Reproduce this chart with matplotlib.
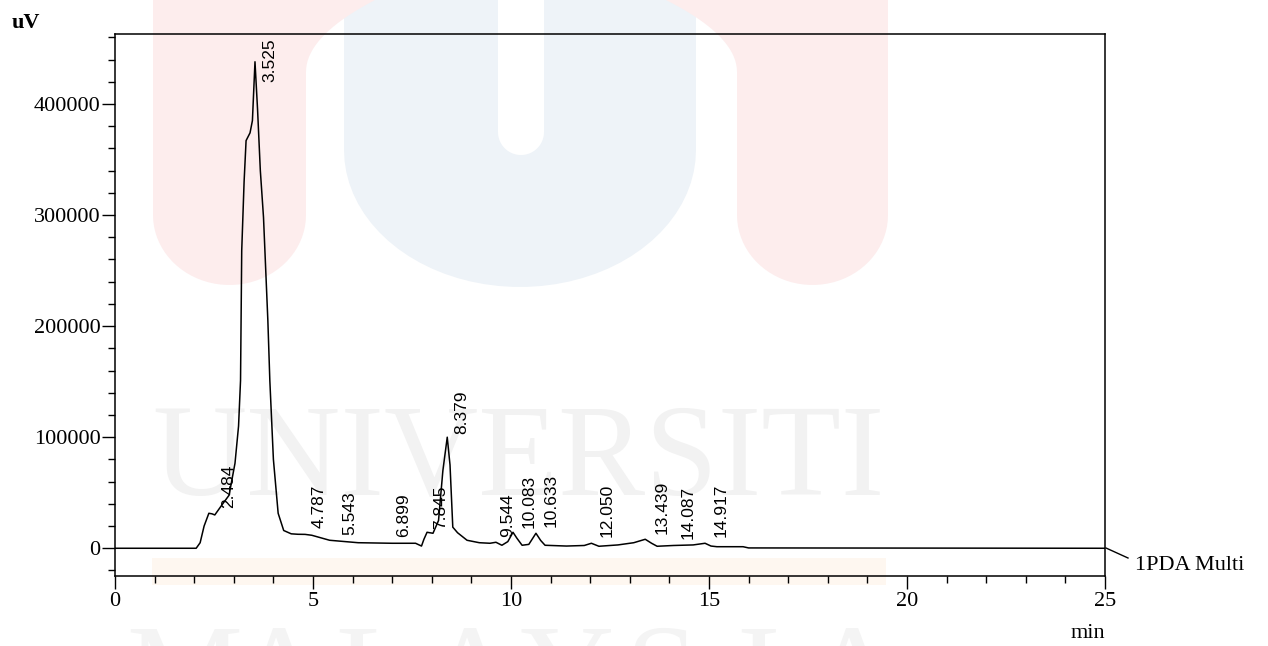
import numpy as np
import matplotlib
matplotlib.use("Agg")
import matplotlib.pyplot as plt
from matplotlib.ticker import MultipleLocator
from matplotlib.patches import Rectangle, Polygon

# chromatogram trace (retention time in min, signal in uV)
rt_min = [0.0, 2.05, 2.15, 2.25, 2.37, 2.45, 2.52, 2.62, 2.73, 2.88, 3.03, 3.12,
          3.17, 3.20, 3.26, 3.31, 3.41, 3.47, 3.535, 3.60, 3.67, 3.75, 3.86, 3.91,
          4.00, 4.12, 4.26, 4.45, 4.62, 4.80, 4.97, 5.42, 6.14, 7.00, 7.59, 7.74,
          7.80, 7.88, 8.03, 8.17, 8.28, 8.39, 8.46, 8.53, 8.65, 8.89, 9.20, 9.47,
          9.62, 9.77, 9.92, 10.05, 10.15, 10.28, 10.45, 10.63, 10.75, 10.86, 11.40,
          11.85, 12.03, 12.22, 12.70, 13.10, 13.39, 13.55, 13.69, 14.10, 14.60,
          14.90, 15.05, 15.20, 15.86, 16.0, 25.0]
signal_uv = [0, 0, 5000, 20000, 31500, 31000, 30000, 35000, 40500, 47700, 76500,
             110000, 151000, 268000, 330000, 367000, 374000, 385000, 438000, 395000,
             340000, 298000, 205000, 151000, 80000, 31500, 16000, 13000, 12600,
             12500, 11700, 7200, 5000, 4500, 4500, 2000, 8000, 14400, 13500, 25000,
             70000, 100000, 75000, 19000, 14000, 7200, 5000, 4500, 5400, 2700, 6000,
             14400, 9000, 2700, 3500, 13500, 7000, 2700, 2000, 2500, 4500, 1800,
             3000, 5000, 8100, 4500, 1800, 2500, 3000, 4500, 2000, 1400, 1400, 300, 0]

# peak retention times printed above the peaks
peak_rt = [2.484, 3.525, 4.787, 5.543, 6.899, 7.845, 8.379, 9.544, 10.083,
           10.633, 12.050, 13.439, 14.087, 14.917]

W, H = 1268, 646
fig = plt.figure(figsize=(W / 100, H / 100), dpi=100)

# background watermark, drawn in pixel coordinates
bg = fig.add_axes([0, 0, 1, 1], zorder=0)
bg.set_xlim(0, W)
bg.set_ylim(H, 0)
bg.axis('off')

pink = '#fdeded'
blue = '#eef3f8'


def ushape(x0, x1, bottom, ry, color, flare=None):
    # bar from the top edge down to a rounded (half ellipse) bottom
    cx, rx = (x0 + x1) / 2, abs(x1 - x0) / 2
    a = np.linspace(np.pi, 0, 40)
    arc = np.column_stack([cx + rx * np.cos(a), bottom - ry + ry * np.sin(a)])
    pts = [(min(x0, x1), -5)] + [tuple(p) for p in arc] + [(max(x0, x1), -5)]
    if flare is not None:
        # inner edge widens towards the top
        fx, fy, inner = flare
        s = np.linspace(0, 1, 20)
        curve = [(inner + (fx - inner) * t ** 2, fy * (1 - t)) for t in s]
        if fx > inner:
            pts = pts[:-1] + curve + [(fx, -5)]
        else:
            pts = [(fx, -5)] + curve[::-1] + pts[1:]
    return Polygon(pts, closed=True, facecolor=color, edgecolor='none')


bg.add_patch(ushape(344, 696, 287, 137, blue))
bg.add_patch(ushape(498, 544, 155, 23, 'white'))
bg.add_patch(ushape(153, 306, 285, 70, pink, flare=(375, 72, 306)))
bg.add_patch(ushape(737, 888, 285, 70, pink, flare=(666, 72, 737)))
bg.add_patch(Rectangle((152, 558), 734, 27, facecolor='#fef7f0', edgecolor='none'))
bg.text(152, 495, 'UNIVERSITI', fontsize=94, family='Liberation Serif',
        color='#f2f2f2', va='baseline', ha='left')
for i, ch in enumerate('MALAYSIA'):
    bg.text(184 + i * 95.6, 715, ch, fontsize=94, family='Liberation Serif',
            color='#f4f4f4', va='baseline', ha='center')

# the chromatogram
ymin, ymax = -24700, 463000
ax = fig.add_axes([115 / W, 1 - 575.7 / H, 990 / W, (575.7 - 34) / H], zorder=1)
ax.patch.set_alpha(0)
ax.plot(rt_min, signal_uv, color='black', lw=1.1)
ax.set_xlim(0, 25)
ax.set_ylim(ymin, ymax)

ax.set_xticks(np.arange(0, 26, 5))
ax.set_yticks(np.arange(0, 400001, 100000))
ax.xaxis.set_minor_locator(MultipleLocator(1))
ax.yaxis.set_minor_locator(MultipleLocator(20000))
ax.tick_params(which='major', direction='out', length=9.4, width=1.0)
ax.tick_params(which='minor', direction='out', length=5, width=1.0)
ax.tick_params(axis='x', pad=2)
ax.tick_params(axis='y', pad=1)
for lab in ax.get_xticklabels() + ax.get_yticklabels():
    lab.set_family('Liberation Serif')
    lab.set_fontsize(16)
for s in ax.spines.values():
    s.set_linewidth(1.1)

# peak labels, pushed down so they stay inside the frame
for rt in peak_rt:
    yv = np.interp(rt, rt_min, signal_uv) + 5500
    yv = min(yv, ymax - 43000)
    ax.text(rt + 0.38, yv, '%.3f' % rt, rotation=90, ha='center', va='bottom',
            fontsize=12.5, family='Liberation Sans')

# axis captions
bg.text(12, 28, 'uV', fontsize=16, family='Liberation Serif', fontweight='bold',
        va='baseline', ha='left')
bg.text(1105, 638, 'min', fontsize=16, family='Liberation Serif', va='baseline', ha='right')
bg.plot([1106, 1128], [548, 558], color='black', lw=1.0)
bg.text(1135, 570, '1PDA Multi', fontsize=16, family='Liberation Serif',
        va='baseline', ha='left')

fig.savefig('out.png', dpi=100)
